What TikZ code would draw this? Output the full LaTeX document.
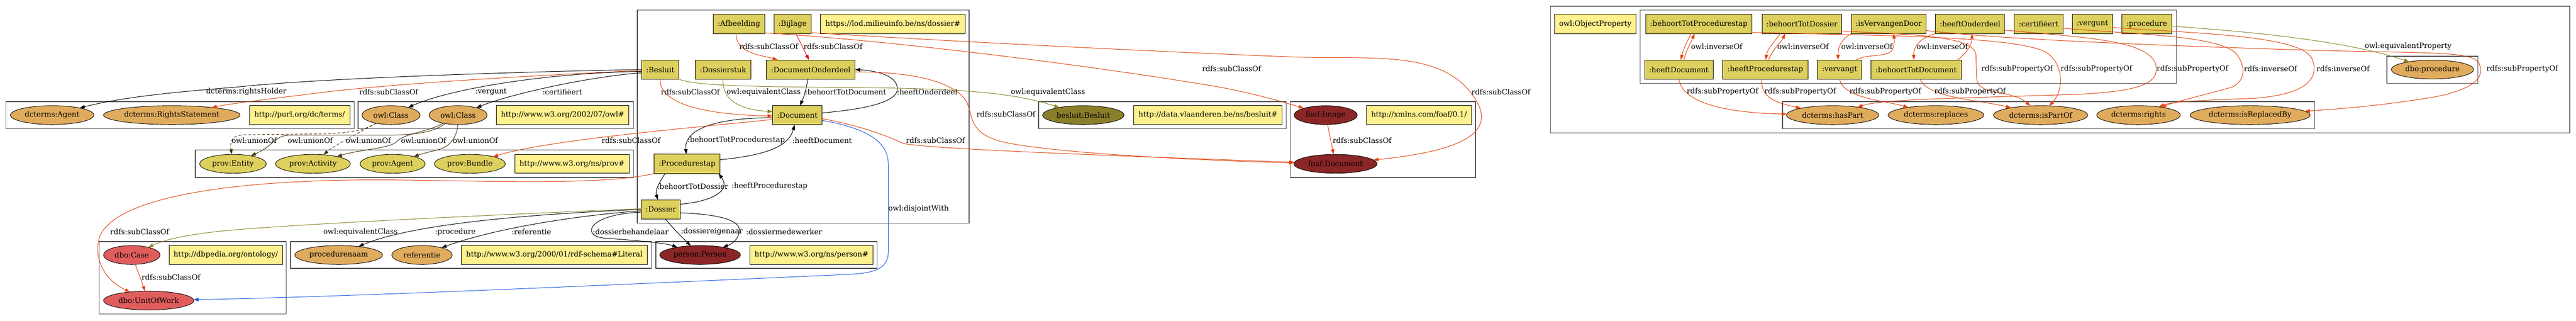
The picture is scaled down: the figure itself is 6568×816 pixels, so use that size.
\documentclass[tikz,border=0pt]{standalone}
\usepackage{fontspec}
\setmainfont{DejaVu Serif}
\usetikzlibrary{arrows.meta,shapes.geometric}
\definecolor{cOr}{RGB}{223,171,93}
\definecolor{cYe}{RGB}{221,208,94}
\definecolor{cLy}{RGB}{255,241,142}
\definecolor{cOl}{RGB}{139,126,43}
\definecolor{cDr}{RGB}{139,38,38}
\definecolor{cDb}{RGB}{224,93,93}
\definecolor{eRd}{RGB}{226,66,12}
\definecolor{eRr}{RGB}{226,10,20}
\definecolor{eOl}{RGB}{139,128,40}
\definecolor{eBl}{RGB}{27,89,230}
\definecolor{eBr}{RGB}{74,52,16}
\definecolor{cCl}{RGB}{80,80,80}
\newcommand\T[1]{\hbox to 0pt{\hss#1\hss}}
\begin{document}
\begin{tikzpicture}[x=1pt,y=-1pt,
  every node/.style={font=\fontsize{18.67}{22}\selectfont, inner sep=0pt, outer sep=0pt},
  ell/.style={ellipse, draw=black, line width=1.2pt, minimum height=48pt},
  rbox/.style={rectangle, draw=black, line width=1.2pt, minimum height=49pt},
  clus/.style={draw=cCl, line width=1.8pt},
  ed/.style={line width=1.33pt, -{Triangle[length=13pt,width=9pt]}},
  dsh/.style={dash pattern=on 7pt off 5pt},
]
\useasboundingbox (0,0) rectangle (6568,816);
% clusters
\draw[clus] (15,259) rectangle (903,328);
\draw[clus] (913,259) rectangle (1615,328);
\draw[clus] (498,382) rectangle (1615,452);
\draw[clus] (253,615) rectangle (730,799);
\draw[clus] (741,615) rectangle (1661,683);
\draw[clus] (1672,615) rectangle (2236,683);
\draw[clus] (1625,26) rectangle (2471,568);
\draw[clus] (2648,259) rectangle (3279,328);
\draw[clus] (3290,259) rectangle (3762,452);
\draw[clus] (3953,16) rectangle (6552,338);
\draw[clus] (4182,26) rectangle (5549,212);
\draw[clus] (4545,259) rectangle (5901,328);
\draw[clus] (6086,143) rectangle (6318,212);
% nodes
\node[ell, fill=cOr, minimum width=213pt] (dAgent) at (133,293) {\T{dcterms:Agent}};
\node[ell, fill=cOr, minimum width=348pt] (dRights) at (438,293) {\T{dcterms:RightsStatement}};
\node[rbox, fill=cLy, minimum width=256pt, minimum height=48pt] (purl) at (764,293) {\T{http://purl.org/dc/terms/}};
\node[ell, fill=cOr, minimum width=148pt] (owlC1) at (997,293) {\T{owl:Class}};
\node[ell, fill=cOr, minimum width=148pt] (owlC2) at (1168,293) {\T{owl:Class}};
\node[rbox, fill=cLy, minimum width=337pt, minimum height=48pt] (owlURL) at (1434.5,293) {\T{http://www.w3.org/2002/07/owl\#}};
\node[ell, fill=cYe, minimum width=170pt] (pEntity) at (594,417) {\T{prov:Entity}};
\node[ell, fill=cYe, minimum width=191pt] (pActivity) at (798,417) {\T{prov:Activity}};
\node[ell, fill=cYe, minimum width=166pt] (pAgent) at (1001,417) {\T{prov:Agent}};
\node[ell, fill=cYe, minimum width=181pt] (pBundle) at (1198,417) {\T{prov:Bundle}};
\node[rbox, fill=cLy, minimum width=291pt, minimum height=48pt] (provURL) at (1458.5,417) {\T{http://www.w3.org/ns/prov\#}};
\node[ell, fill=cDb, minimum width=144pt] (dboCase) at (336,649) {\T{dbo:Case}};
\node[rbox, fill=cLy, minimum width=289pt, minimum height=48pt] (dbpURL) at (575.5,649) {\T{http://dbpedia.org/ontology/}};
\node[ell, fill=cDb, minimum width=230pt] (dboUoW) at (379,765) {\T{dbo:UnitOfWork}};
\node[ell, fill=cOr, minimum width=223pt] (procnaam) at (863.5,649) {\T{procedurenaam}};
\node[ell, fill=cOr, minimum width=154pt] (ref) at (1076,649) {\T{referentie}};
\node[rbox, fill=cLy, minimum width=475pt, minimum height=48pt] (litURL) at (1413.5,649) {\T{http://www.w3.org/2000/01/rdf-schema\#Literal}};
\node[ell, fill=cDr, minimum width=206pt] (person) at (1785,649) {\T{person:Person}};
\node[rbox, fill=cLy, minimum width=314pt, minimum height=48pt] (personURL) at (2069,649) {\T{http://www.w3.org/ns/person\#}};
\node[rbox, fill=cYe, minimum width=132pt] (afb) at (1884,61) {\T{:Afbeelding}};
\node[rbox, fill=cYe, minimum width=95pt] (bijl) at (2020.5,61) {\T{:Bijlage}};
\node[rbox, fill=cLy, minimum width=369pt] (dosURL) at (2276.5,61) {\T{https://lod.milieuinfo.be/ns/dossier\#}};
\node[rbox, fill=cYe, minimum width=95pt] (besl) at (1683.5,177) {\T{:Besluit}};
\node[rbox, fill=cYe, minimum width=143pt] (dstuk) at (1843.5,177) {\T{:Dossierstuk}};
\node[rbox, fill=cYe, minimum width=226pt] (docond) at (2067,177) {\T{:DocumentOnderdeel}};
\node[rbox, fill=cYe, minimum width=126pt] (doc) at (2033,293) {\T{:Document}};
\node[rbox, fill=cYe, minimum width=168pt] (pstap) at (1752,417) {\T{:Procedurestap}};
\node[rbox, fill=cYe, minimum width=100pt] (dossier) at (1685,533) {\T{:Dossier}};
\node[ell, fill=cOl, minimum width=208pt] (bBesluit) at (2762,293) {\T{besluit:Besluit}};
\node[rbox, fill=cLy, minimum width=378pt, minimum height=48pt] (vlURL) at (3080,293) {\T{http://data.vlaanderen.be/ns/besluit\#}};
\node[ell, fill=cDr, minimum width=161pt] (fImage) at (3380,293) {\T{foaf:Image}};
\node[rbox, fill=cLy, minimum width=268pt, minimum height=48pt] (xmlnsURL) at (3618,293) {\T{http://xmlns.com/foaf/0.1/}};
\node[ell, fill=cDr, minimum width=212pt] (fDoc) at (3405,417) {\T{foaf:Document}};
\node[rbox, fill=cLy, minimum width=207pt] (objProp) at (4067.5,61) {\T{owl:ObjectProperty}};
\node[rbox, fill=cYe, minimum width=271pt] (pBTPs) at (4331.5,61) {\T{:behoortTotProcedurestap}};
\node[rbox, fill=cYe, minimum width=203pt] (pBTD) at (4594.5,61) {\T{:behoortTotDossier}};
\node[rbox, fill=cYe, minimum width=191pt] (pIVD) at (4815.5,61) {\T{:isVervangenDoor}};
\node[rbox, fill=cYe, minimum width=176pt] (pHO) at (5023,61) {\T{:heeftOnderdeel}};
\node[rbox, fill=cYe, minimum width=124pt] (pCert) at (5198,61) {\T{:certifiëert}};
\node[rbox, fill=cYe, minimum width=102pt] (pVerg) at (5335,61) {\T{:vergunt}};
\node[rbox, fill=cYe, minimum width=127pt] (pProc) at (5473.5,61) {\T{:procedure}};
\node[rbox, fill=cYe, minimum width=175pt] (pHD) at (4280.5,177) {\T{:heeftDocument}};
\node[rbox, fill=cYe, minimum width=218pt] (pHPs) at (4501,177) {\T{:heeftProcedurestap}};
\node[rbox, fill=cYe, minimum width=113pt] (pVerv) at (4690.5,177) {\T{:vervangt}};
\node[rbox, fill=cYe, minimum width=231pt] (pBTDoc) at (4885.5,177) {\T{:behoortTotDocument}};
\node[ell, fill=cOr, minimum width=235pt] (hasPart) at (4672.5,293) {\T{dcterms:hasPart}};
\node[ell, fill=cOr, minimum width=244pt] (replaces) at (4936,293) {\T{dcterms:replaces}};
\node[ell, fill=cOr, minimum width=240pt] (isPartOf) at (5203,293) {\T{dcterms:isPartOf}};
\node[ell, fill=cOr, minimum width=213pt] (rights) at (5452.5,293) {\T{dcterms:rights}};
\node[ell, fill=cOr, minimum width=306pt] (isRepl) at (5737,293) {\T{dcterms:isReplacedBy}};
\node[ell, fill=cOr, minimum width=210pt] (dboProc) at (6202,177) {\T{dbo:procedure}};
% edges: class diagram
\draw[ed] (besl.180) .. controls (1300,183) and (800,200) .. (600,222) .. controls (420,236) and (300,250) .. (dAgent);
\draw[ed,eRd] (besl.183) .. controls (1400,190) and (1000,212) .. (800,238) .. controls (680,253) and (600,262) .. (dRights);
\draw[ed] (besl.186) .. controls (1400,185) and (1150,225) .. (owlC1);
\draw[ed] (besl.190) .. controls (1500,195) and (1300,240) .. (owlC2);
\draw[ed] (doc.186) .. controls (1820,300) and (1744,330) .. (pstap);
\draw[ed] (pstap.7) .. controls (1950,395) and (2010,375) .. (doc);
\draw[ed] ([xshift=-56pt]pstap.south) .. controls (1680,465) and (1670,485) .. (dossier);
\draw[ed] (dossier.15) .. controls (1800,515) and (1868,490) .. ([xshift=80pt]pstap.south);
\draw[ed] (dossier.west) .. controls (1350,545) and (1050,570) .. (procnaam);
\draw[ed] (dossier.184) .. controls (1450,550) and (1250,585) .. (ref);
\draw[ed] (dossier.188) .. controls (1500,545) and (1480,600) .. (1540,606) .. controls (1650,614) and (1700,620) .. (person);
\draw[ed] (dossier.-65) .. controls (1725,590) .. (person);
\draw[ed] (dossier.-10) .. controls (1830,545) and (1885,560) .. (1885,585) .. controls (1885,605) and (1870,620) .. (person);
\draw[ed,eRd] (besl.south) .. controls (1680,265) and (1800,292) .. (doc.182);
\draw[ed,eOl] (dstuk.south) .. controls (1840,262) and (1900,280) .. (doc.172);
\draw[ed] ([xshift=-7pt]docond.south) .. controls (2052,240) .. ([xshift=7pt]doc.north);
\draw[ed] (doc.5) .. controls (2180,280) and (2290,265) .. (2288,225) .. controls (2286,190) and (2230,180) .. (docond.east);
\draw[ed,eRd] ([xshift=-7pt]afb.south) .. controls (1875,135) and (1940,140) .. (docond);
\draw[ed,eRr] (bijl.290) -- (docond.100);
\draw[ed,eRd] (afb.-19) .. controls (2300,105) and (2800,170) .. (3100,220) .. controls (3200,238) and (3280,262) .. (fImage);
\draw[ed,eRd] (bijl.-25) .. controls (2500,110) and (3100,138) .. (3300,145) .. controls (3500,152) and (3680,125) .. (3760,250) .. controls (3820,340) and (3720,385) .. (fDoc);
\draw[ed,eRd] (fImage) -- (fDoc);
\draw[ed,eRd] (doc.-8) .. controls (2200,322) and (2260,345) .. (2300,364) .. controls (2340,380) and (3000,402) .. (fDoc);
\draw[ed,eRd] (docond.-3) .. controls (2350,183) and (2440,215) .. (2465,260) .. controls (2482,300) and (2470,340) .. (2560,362) .. controls (2700,392) and (3100,410) .. (fDoc);
\draw[ed,eRd] (doc.190) .. controls (1800,322) and (1400,355) .. (pBundle);
\draw[ed,eRd] (pstap.south west) .. controls (1550,470) and (1300,462) .. (1000,458) .. controls (600,455) and (300,500) .. (255,600) .. controls (235,660) and (270,715) .. (dboUoW);
\draw[ed,eOl] (dossier.178) .. controls (1300,545) and (800,568) .. (600,585) .. controls (480,595) and (420,610) .. (dboCase);
\draw[ed,eRd] (dboCase) -- (dboUoW);
\draw[ed,eBl] (doc.-12) .. controls (2230,330) and (2265,370) .. (2265,420) -- (2265,640) .. controls (2265,690) and (2220,696) .. (2150,699) .. controls (1500,728) and (900,755) .. (dboUoW);
\draw[ed,eOl] (besl.south east) .. controls (1765,215) and (1850,221) .. (2200,223) .. controls (2450,226) and (2580,235) .. (bBesluit);
\draw[ed,eBr,dsh] (owlC1) .. controls (930,330) and (900,340) .. (800,341) -- (625,343) .. controls (590,344) and (586,360) .. (pEntity);
\draw[ed,eBr,dsh] (owlC1) .. controls (925,332) and (850,372) .. (pActivity);
\draw[ed,eBr] (owlC2) .. controls (1110,332) and (1080,342) .. (1000,344) -- (740,344) .. controls (700,344) and (700,370) .. (pEntity);
\draw[ed,eBr] (owlC2) .. controls (1090,336) and (1030,340) .. (1012,360) .. controls (995,378) and (920,380) .. (pActivity);
\draw[ed,eBr] (owlC2) .. controls (1166,345) and (1150,372) .. (1120,380) .. controls (1100,386) and (1080,390) .. (pAgent);
% edges: properties
\draw[ed,eRd] ([xshift=-20pt]pBTPs.south) .. controls (4302,105) and (4292,125) .. ([xshift=5pt]pHD.north);
\draw[ed,eRd] ([xshift=13pt]pHD.north) .. controls (4300,125) and (4313,105) .. ([xshift=-11pt]pBTPs.south);
\draw[ed,eRd] ([xshift=-55pt]pBTD.south) .. controls (4525,105) and (4506,125) .. ([xshift=1pt]pHPs.north);
\draw[ed,eRd] ([xshift=8pt]pHPs.north) .. controls (4520,125) and (4543,105) .. ([xshift=-43pt]pBTD.south);
\draw[ed,eRd] (pIVD.south west) .. controls (4695,100) and (4686,120) .. ([xshift=-4pt]pVerv.north);
\draw[ed,eRd] ([xshift=-14pt]pVerv.north east) .. controls (4760,138) and (4790,145) .. (4815,135) .. controls (4832,128) and (4830,100) .. ([xshift=12pt]pIVD.south);
\draw[ed,eRd] (pHO.south west) .. controls (4900,95) and (4879,115) .. ([xshift=-6pt]pBTDoc.north);
\draw[ed,eRd] ([xshift=-10pt]pBTDoc.north east) .. controls (5015,135) and (5028,112) .. ([xshift=5pt]pHO.south);
\draw[ed,eRd] (pHD.south) .. controls (4290,262) and (4400,287) .. (hasPart);
\draw[ed,eRd] ([xshift=-10pt]pHPs.south) .. controls (4490,250) and (4530,262) .. (hasPart);
\draw[ed,eRd] (pVerv.south) .. controls (4700,250) and (4800,255) .. (replaces);
\draw[ed,eRd] ([xshift=10pt]pBTDoc.south) .. controls (4915,250) and (5050,255) .. (isPartOf);
\draw[ed,eRd] (pBTD.-10) .. controls (4850,88) and (5035,88) .. (5038,140) -- (5040,200) .. controls (5042,245) and (5130,228) .. (isPartOf);
\draw[ed,eRd] (pBTPs.-9) .. controls (4700,90) and (5150,88) .. (5220,135) .. controls (5262,165) and (5262,230) .. (isPartOf);
\draw[ed,eRd] (pHO.-10) .. controls (5300,95) and (5470,100) .. (5495,160) .. controls (5512,215) and (5450,232) .. (5300,240) .. controls (5000,250) and (4800,252) .. (hasPart);
\draw[ed,eRd] (pCert.-10) .. controls (5450,88) and (5650,90) .. (5700,135) .. controls (5730,170) and (5722,210) .. (5690,222) .. controls (5620,242) and (5560,255) .. (rights);
\draw[ed,eRd] (pVerg.-10) .. controls (5600,85) and (5870,90) .. (5895,150) .. controls (5915,200) and (5880,240) .. (5750,250) .. controls (5600,256) and (5540,258) .. (rights);
\draw[ed,eRd] (pIVD.-10) .. controls (5100,100) and (5500,116) .. (5900,128) .. controls (6200,136) and (6300,130) .. (6320,160) .. controls (6340,200) and (6300,230) .. (6200,248) .. controls (6050,272) and (5950,278) .. (isRepl);
\draw[ed,eOl] (pProc.-5) .. controls (5800,85) and (6000,110) .. (dboProc);
% labels
\node (l1) at (628,234) {dcterms:rightsHolder};
\node (l2) at (991,234) {rdfs:subClassOf};
\node (l3) at (1252,234) {:vergunt};
\node (l4) at (1434,234) {:certifiëert};
\node (l5) at (1760,234) {rdfs:subClassOf};
\node (l6) at (1947,234) {owl:equivalentClass};
\node (l7) at (2156,234) {:behoortTotDocument};
\node (l8) at (2364,234) {:heeftOnderdeel};
\node (l9) at (2672,234) {owl:equivalentClass};
\node (l10) at (2565,291) {rdfs:subClassOf};
\node (l11) at (3140,175) {rdfs:subClassOf};
\node (l12) at (3827,234) {rdfs:subClassOf};
\node (l13) at (3473,357) {rdfs:subClassOf};
\node (l14) at (2385,357) {rdfs:subClassOf};
\node (l15) at (2342,532) {owl:disjointWith};
\node (l16) at (1609,357) {rdfs:subClassOf};
\node (l17) at (1877,357) {:behoortTotProcedurestap};
\node (l18) at (2096,357) {:heeftDocument};
\node (l19) at (1766,474) {:behoortTotDossier};
\node (l20) at (1962,474) {:heeftProcedurestap};
\node (l21) at (1161,590) {:procedure};
\node (l22) at (1355,590) {:referentie};
\node (l23) at (1608,590) {:dossierbehandelaar};
\node (l24) at (1815,590) {:dossiereigenaar};
\node (l25) at (1999,590) {:dossiermedewerker};
\node (l26) at (919,590) {owl:equivalentClass};
\node (l27) at (356,590) {rdfs:subClassOf};
\node (l28) at (436,706) {rdfs:subClassOf};
\node (l29) at (648,358) {owl:unionOf};
\node (l30) at (791,358) {owl:unionOf};
\node (l31) at (939,358) {owl:unionOf};
\node (l32) at (1080,358) {owl:unionOf};
\node (l33) at (1212,358) {owl:unionOf};
\node (l34) at (1960,118) {rdfs:subClassOf};
\node (l35) at (2124,118) {rdfs:subClassOf};
\node (l36) at (4377,118) {owl:inverseOf};
\node (l37) at (4597,118) {owl:inverseOf};
\node (l38) at (4760,118) {owl:inverseOf};
\node (l39) at (4952,118) {owl:inverseOf};
\node (l40) at (4392,234) {rdfs:subPropertyOf};
\node (l41) at (4590,234) {rdfs:subPropertyOf};
\node (l42) at (4807,234) {rdfs:subPropertyOf};
\node (l43) at (5023,234) {rdfs:subPropertyOf};
\node (l44) at (5143,175) {rdfs:subPropertyOf};
\node (l45) at (5345,175) {rdfs:subPropertyOf};
\node (l46) at (5590,175) {rdfs:subPropertyOf};
\node (l47) at (6431,175) {rdfs:subPropertyOf};
\node (l48) at (5789,175) {rdfs:inverseOf};
\node (l49) at (5974,175) {rdfs:inverseOf};
\node (l50) at (6140,118) {owl:equivalentProperty};
\end{tikzpicture}
\end{document}
